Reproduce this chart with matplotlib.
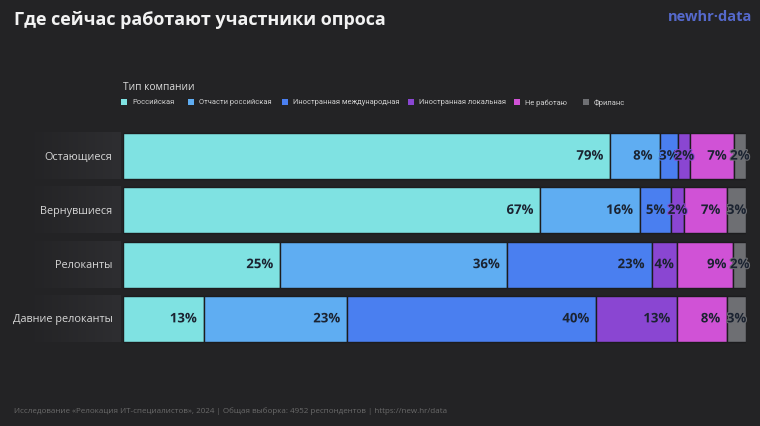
import matplotlib
matplotlib.use("Agg")
import matplotlib.pyplot as plt
import matplotlib.patheffects as pe
from matplotlib.patches import Rectangle
from matplotlib.colors import LinearSegmentedColormap
import numpy as np

plt.rcParams['font.family'] = ['Open Sans', 'DejaVu Sans']

# data
groups = ["Остающиеся", "Вернувшиеся", "Релоканты", "Давние релоканты"]
categories = ["Российская", "Отчасти российская", "Иностранная международная",
              "Иностранная локальная", "Не работаю", "Фриланс"]
russian = [79, 67, 25, 13]
partly_russian = [8, 16, 36, 23]
foreign_intl = [3, 5, 23, 40]
foreign_local = [2, 2, 4, 13]
not_working = [7, 7, 9, 8]
freelance = [2, 3, 2, 3]

colors = ["#7fe2e2", "#5fadf2", "#4a7ff0", "#8a46d2", "#d052d6", "#6e6f73"]
bg = "#232325"

series = np.array([russian, partly_russian, foreign_intl, foreign_local,
                   not_working, freelance], dtype=float)
shares = series / series.sum(axis=0) * 100

fig = plt.figure(figsize=(7.6, 4.27), dpi=100, facecolor=bg)
ax = fig.add_axes([123 / 760, 1 - 347 / 427, 623 / 760, 217 / 427])
ax.set_facecolor(bg)

y = np.arange(len(groups))
px = 623 / 100.0  # pixels per percent
left = np.zeros(len(groups))
for i, cat in enumerate(categories):
    ax.barh(y, shares[i], left=left, height=0.85, color=colors[i],
            edgecolor="#1c1c1e", linewidth=1.0, label=cat)
    for j in range(len(groups)):
        w = shares[i][j]
        txt = f"{int(series[i][j])}%"
        if w * px > 40:
            xt, ha = left[j] + w - 7 / px, "right"
        else:
            xt, ha = left[j] + w / 2, "center"
        ax.text(xt, y[j], txt, ha=ha, va="center", fontsize=9.5,
                fontweight="bold", color="#1b2331",
                path_effects=[pe.withStroke(linewidth=1.5, foreground=colors[i])])
    left += shares[i]

# row label background gradient
grad = np.linspace(0, 1, 100).reshape(1, -1)
cmap = LinearSegmentedColormap.from_list("g", [bg, "#2e2e31"])
for j in range(len(groups)):
    ax.imshow(grad, extent=[-15.5, -0.3, y[j] + 0.425, y[j] - 0.425],
              cmap=cmap, aspect="auto", clip_on=False, zorder=0)
    ax.text(-1.7, y[j], groups[j], ha="right", va="center", fontsize=7.8,
            color="#d6d6d6")

ax.set_xlim(0, 100)
ax.set_ylim(len(groups) - 0.5, -0.5)
ax.axis("off")

# legend (manual layout)
fig.text(123 / 760, 1 - 88 / 427, "Тип компании", fontsize=7.3, color="#dcdcdc",
         va="center")
leg_x = [121, 188, 282, 408, 514, 583]
for i, cat in enumerate(categories):
    fig.patches.append(Rectangle((leg_x[i] / 760, 1 - 106 / 427), 6 / 760, 6 / 427,
                                 transform=fig.transFigure, facecolor=colors[i],
                                 edgecolor="none"))
    fig.text((leg_x[i] + 11) / 760, 1 - 103 / 427, cat, fontsize=5.4,
             family="Roboto", color="#d0d0d0", va="center")

fig.text(14 / 760, 1 - 20 / 427, "Где сейчас работают участники опроса",
         fontsize=13, fontweight="bold", color="#f2f2f2", va="center")
fig.text(752 / 760, 1 - 17 / 427, "newhr·data", fontsize=10.5, fontweight="bold",
         color="#5569cc", ha="right", va="center")
fig.text(14 / 760, 1 - 411 / 427,
         "Исследование «Релокация ИТ-специалистов», 2024 | Общая выборка: 4952 респондентов | https://new.hr/data",
         fontsize=5.8, color="#6a6a6a", va="center")

fig.savefig("out.png", dpi=100, facecolor=bg)
